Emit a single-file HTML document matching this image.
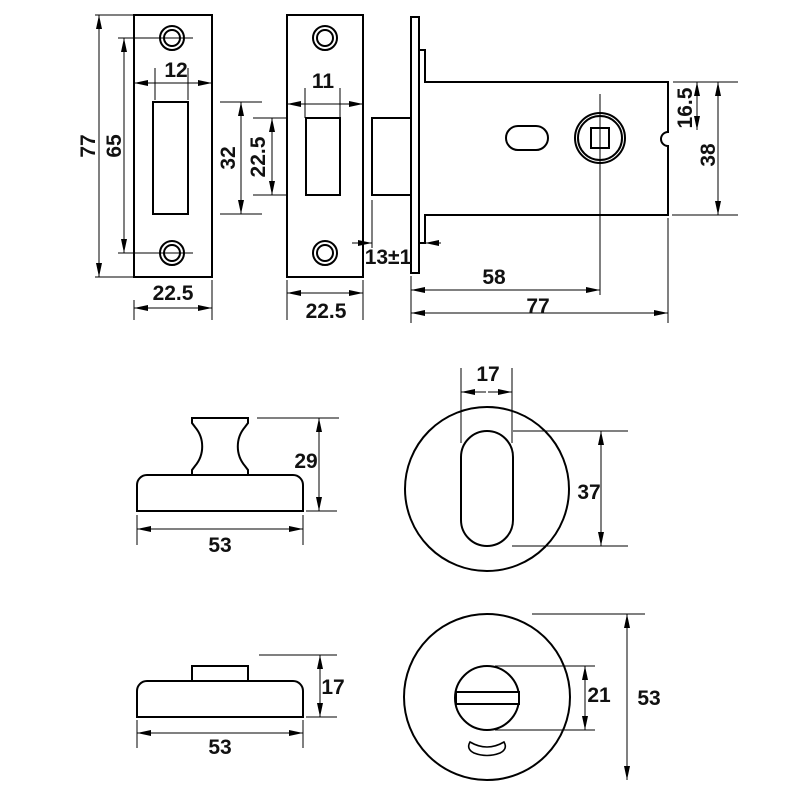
<!DOCTYPE html>
<html><head><meta charset="utf-8"><style>
html,body{margin:0;padding:0;background:#fff}
svg{display:block}
text{font-family:"Liberation Sans",Arial,sans-serif;font-weight:bold;font-size:21px;fill:#111}
</style></head><body>
<svg width="800" height="800" viewBox="0 0 800 800" xmlns="http://www.w3.org/2000/svg">
<defs>
<marker id="a" viewBox="0 0 14 6" refX="14" refY="3" markerWidth="14" markerHeight="6" markerUnits="userSpaceOnUse" orient="auto-start-reverse"><path d="M0,0 L14,3 L0,6 Z" fill="#000"/></marker>
</defs>
<g fill="none" stroke="#000" stroke-width="2">
<rect x="134" y="15" width="78" height="262"/>
<circle cx="172" cy="38" r="12"/><circle cx="172" cy="38" r="8"/>
<circle cx="172" cy="253" r="12"/><circle cx="172" cy="253" r="8"/>
<rect x="153" y="102" width="35" height="112"/>
<rect x="287" y="15" width="76" height="262"/>
<circle cx="325" cy="38" r="12"/><circle cx="325" cy="38" r="8"/>
<circle cx="325" cy="253" r="12"/><circle cx="325" cy="253" r="8"/>
<rect x="306" y="118" width="34" height="77"/>
<rect x="411" y="17" width="8" height="256"/>
<rect x="372" y="118" width="39" height="77"/>
<path d="M419,50 H425 V82 H668 V132 A7,7 0 0 0 668,146 V215 H425 V243 H419"/>
<rect x="506" y="126" width="42" height="24" rx="12"/>
<circle cx="600" cy="138" r="25"/><circle cx="600" cy="138" r="22"/>
<rect x="591" y="128" width="18" height="20"/>
<path d="M137,511 V485 A10,10 0 0 1 147,475 H293 A10,10 0 0 1 303,485 V511 Z"/>
<path d="M192,475 V470 L195,466 A30,30 0 0 0 195,427 L192,423 V418 H248 V423 L245,427 A30,30 0 0 0 245,466 L248,470 V475"/>
<path d="M137,717 V691 A10,10 0 0 1 147,681 H293 A10,10 0 0 1 303,691 V717 Z"/>
<rect x="192" y="666" width="56" height="15"/>
<circle cx="487" cy="489" r="82"/>
<rect x="461" y="431" width="52" height="115" rx="26"/>
<circle cx="487" cy="697" r="83"/>
<circle cx="487" cy="698" r="32"/>
<rect x="456" y="692" width="63" height="12" fill="#fff"/>
<path d="M470,742 Q487,752 504,742 Q508,749 500,753 Q487,758 474,753 Q466,749 470,742 Z" stroke-width="1.6"/>
</g>
<g fill="none" stroke="#000" stroke-width="1">
<path d="M95,15 H134 M95,277 H134 M118,38 H193 M118,253 H193"/>
<path d="M155,68 V100 M188,68 V100 M134,300 V320 M212,280 V320"/>
<path d="M220,102 H262 M220,214 H262 M253,118 H287 M253,195 H287"/>
<path d="M305,88 V118 M340,88 V118 M287,280 V320 M363,280 V320"/>
<path d="M372,200 V248 M411,276 V323 M668,218 V323 M600,94 V295"/>
<path d="M673,82 H738 M672,215 H738"/>
<path d="M257,418 H339 M306,511 H337 M137,515 V545 M303,515 V545"/>
<path d="M259,655 H337 M306,717 H337 M137,720 V748 M303,720 V748"/>
<path d="M461,368 V443 M512,368 V443 M513,431 H628 M512,546 H628"/>
<path d="M532,614 H645 M495,666 H595 M495,730 H595"/>
</g>
<g stroke="#000" stroke-width="1" fill="none">
<line x1="99" y1="15" x2="99" y2="277" marker-start="url(#a)" marker-end="url(#a)"/>
<line x1="124" y1="38" x2="124" y2="253" marker-start="url(#a)" marker-end="url(#a)"/>
<line x1="134" y1="83" x2="212" y2="83" marker-start="url(#a)" marker-end="url(#a)"/>
<line x1="134" y1="308" x2="212" y2="308" marker-start="url(#a)" marker-end="url(#a)"/>
<line x1="241" y1="102" x2="241" y2="214" marker-start="url(#a)" marker-end="url(#a)"/>
<line x1="272" y1="118" x2="272" y2="195" marker-start="url(#a)" marker-end="url(#a)"/>
<line x1="287" y1="104" x2="363" y2="104" marker-start="url(#a)" marker-end="url(#a)"/>
<line x1="287" y1="293" x2="363" y2="293" marker-start="url(#a)" marker-end="url(#a)"/>
<line x1="352" y1="243" x2="372" y2="243" marker-end="url(#a)"/>
<line x1="441" y1="243" x2="425" y2="243" marker-end="url(#a)"/>
<line x1="411" y1="290" x2="600" y2="290" marker-start="url(#a)" marker-end="url(#a)"/>
<line x1="411" y1="313" x2="668" y2="313" marker-start="url(#a)" marker-end="url(#a)"/>
<line x1="697" y1="82" x2="697" y2="130" marker-start="url(#a)" marker-end="url(#a)"/>
<line x1="718" y1="82" x2="718" y2="215" marker-start="url(#a)" marker-end="url(#a)"/>
<line x1="319" y1="418" x2="319" y2="511" marker-start="url(#a)" marker-end="url(#a)"/>
<line x1="137" y1="529" x2="303" y2="529" marker-start="url(#a)" marker-end="url(#a)"/>
<line x1="320" y1="655" x2="320" y2="717" marker-start="url(#a)" marker-end="url(#a)"/>
<line x1="137" y1="733" x2="303" y2="733" marker-start="url(#a)" marker-end="url(#a)"/>
<line x1="486" y1="392" x2="461" y2="392" marker-end="url(#a)"/>
<line x1="488" y1="392" x2="512" y2="392" marker-end="url(#a)"/>
<line x1="601" y1="431" x2="601" y2="546" marker-start="url(#a)" marker-end="url(#a)"/>
<line x1="585" y1="666" x2="585" y2="730" marker-start="url(#a)" marker-end="url(#a)"/>
<line x1="627" y1="614" x2="627" y2="780" marker-start="url(#a)" marker-end="url(#a)"/>
</g>
<g text-anchor="middle">
<text transform="translate(95,146) rotate(-90)">77</text>
<text transform="translate(121,146) rotate(-90)">65</text>
<text x="176" y="77">12</text>
<text x="173" y="300">22.5</text>
<text transform="translate(235,158) rotate(-90)">32</text>
<text transform="translate(265,157) rotate(-90)">22.5</text>
<text x="323" y="88">11</text>
<text x="326" y="318">22.5</text>
<text x="388" y="264">13±1</text>
<text x="494" y="284">58</text>
<text x="538" y="313">77</text>
<text transform="translate(692,108) rotate(-90)">16.5</text>
<text transform="translate(715,155) rotate(-90)">38</text>
<text x="306" y="468">29</text>
<text x="220" y="552">53</text>
<text x="333" y="694">17</text>
<text x="220" y="754">53</text>
<text x="488" y="381">17</text>
<text x="589" y="499">37</text>
<text x="599" y="702">21</text>
<text x="649" y="705">53</text>
</g>
</svg>
</body></html>
